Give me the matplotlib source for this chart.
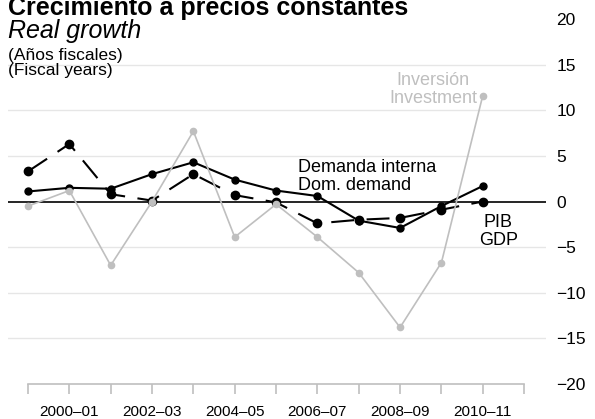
import matplotlib
matplotlib.use("Agg")
import matplotlib.pyplot as plt
import numpy as np

plt.rcParams['font.family'] = ['Liberation Sans', 'DejaVu Sans']

# fiscal years 1999-00 .. 2010-11
years = ['1999–00', '2000–01', '2001–02', '2002–03', '2003–04', '2004–05',
         '2005–06', '2006–07', '2007–08', '2008–09', '2009–10', '2010–11']
gdp = [3.3, 6.3, 0.8, 0.1, 3.0, 0.7, -0.1, -2.4, -2.0, -1.8, -0.9, 0.0]
dom_demand = [1.1, 1.5, 1.4, 3.0, 4.3, 2.4, 1.2, 0.6, -2.1, -2.9, -0.5, 1.7]
investment = [-0.5, 1.2, -7.0, 0.0, 7.7, -3.9, -0.3, -3.9, -7.8, -13.8, -6.7, 11.6]

W, H = 595, 419
fig = plt.figure(figsize=(W / 100, H / 100), dpi=100)
ax = fig.add_axes([8 / W, 1 - 384 / H, (546 - 8) / W, (384 - 19) / H])

x = np.arange(len(years))
ax.set_xlim(-0.484, 12.53)
ax.set_ylim(-20, 20)

# grid
for g in [-15, -10, -5, 5, 10, 15]:
    ax.axhline(g, color='#e6e6e6', lw=1.0, zorder=1)
ax.axhline(0, color='black', lw=1.2, zorder=2)

grey = '#bfbfbf'
ax.plot(x, investment, color=grey, lw=1.2, marker='o', ms=4.5, zorder=5)
ax.plot(x, gdp, color='black', lw=1.5, dashes=(11, 6), marker='o', ms=6, zorder=4)
ax.plot(x, dom_demand, color='black', lw=1.5, marker='o', ms=5, zorder=4)

# labels on lines
ax.text(6.53, 3.23, 'Demanda interna', fontsize=13, ha='left', va='baseline')
ax.text(6.53, 1.26, 'Dom. demand', fontsize=13, ha='left', va='baseline')
ax.text(11.38, -2.79, 'PIB', fontsize=13, ha='center', va='baseline')
ax.text(11.38, -4.77, 'GDP', fontsize=13, ha='center', va='baseline')
ax.text(9.8, 12.77, 'Inversión', fontsize=13, ha='center', va='baseline', color=grey)
ax.text(9.8, 10.79, 'Investment', fontsize=13, ha='center', va='baseline', color=grey)

# right y axis
ax.yaxis.tick_right()
ax.set_yticks(range(-20, 21, 5))
ax.tick_params(axis='y', length=0, pad=7.5, labelsize=12.5)

# bottom axis: ticks at every year (plus one), labels every other year
for s in ['top', 'left', 'right']:
    ax.spines[s].set_visible(False)
ax.spines['bottom'].set_color(grey)
ax.spines['bottom'].set_linewidth(1.2)
ax.spines['bottom'].set_bounds(0, 12)
ax.set_xticks(np.arange(13))
ax.set_xticklabels([years[i] if (i < len(years) and i % 2 == 1) else '' for i in range(13)])
ax.tick_params(axis='x', direction='out', length=7.2, width=1.2, color=grey,
               pad=8, labelsize=11)

# titles
fig.text(8 / W, 1 - 15 / H, 'Crecimiento a precios constantes', fontsize=18,
         fontweight='bold', va='baseline')
fig.text(8 / W, 1 - 38 / H, 'Real growth', fontsize=18, style='italic', va='baseline')
fig.text(8 / W, 1 - 60 / H, '(Años fiscales)', fontsize=12.5, va='baseline')
fig.text(8 / W, 1 - 75 / H, '(Fiscal years)', fontsize=12.5, va='baseline')

fig.savefig('out.png', dpi=100)
